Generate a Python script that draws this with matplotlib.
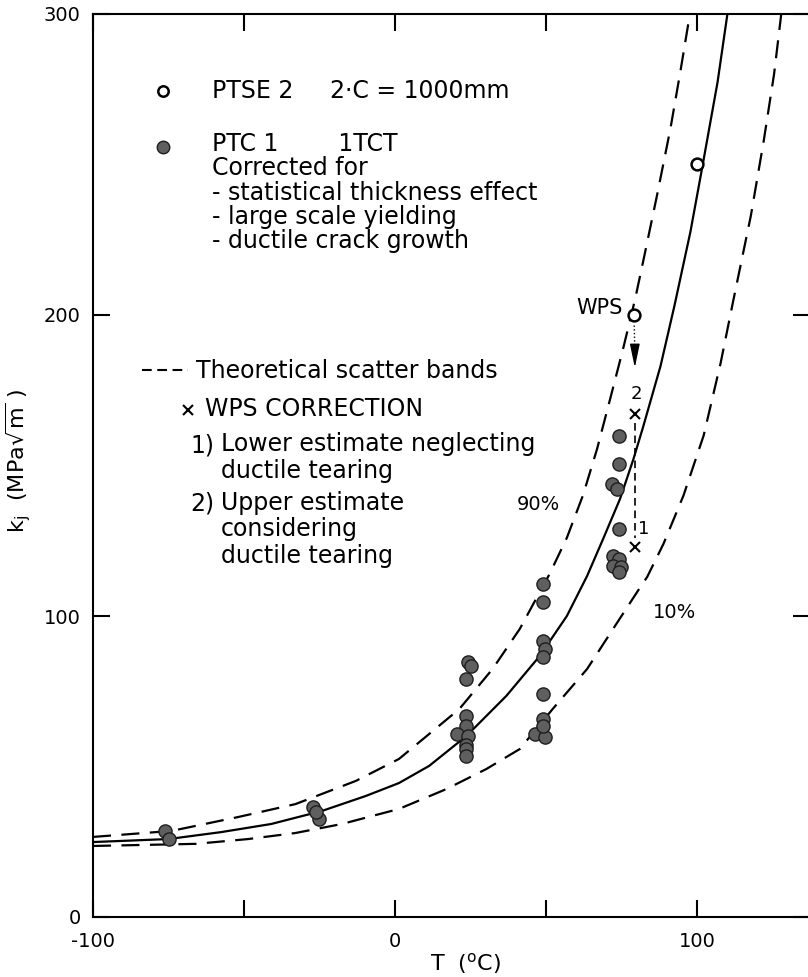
import numpy as np
import matplotlib
matplotlib.use('Agg')
import matplotlib.pyplot as plt
import matplotlib.lines as mlines

plt.rcParams['font.family'] = ['DejaVu Sans']
plt.rcParams['lines.scale_dashes'] = False

# median curve (solid)
t_med = [-100, -75, -57.6, -41, -24.3, -9.7, 1.3, 11.3, 23.6, 36.9, 47.9, 56.9,
         63.6, 68.9, 74.5, 78.9, 82.2, 87.9, 92.5, 97.8, 101.8, 106.8, 110.2]
k_med = [24.9, 25.9, 28.2, 30.9, 35.2, 40.2, 44.5, 50.2, 60.1, 73.5, 86.7, 100,
         113.3, 125.6, 138.9, 152, 163, 183, 203, 227.6, 249.5, 277.4, 301]

# 90% scatter band
t_hi = [-100, -74, -52, -33, -13, 1.3, 21.3, 32.3, 41.3, 51.2, 56.9, 62.2,
        66.9, 71.2, 75.5, 79.5, 82.2, 86.8, 91.2, 94.5, 97.8]
k_hi = [26.6, 28.6, 33.2, 37.5, 45.2, 52.5, 69.1, 82.4, 95.7, 114, 126, 140,
        155.5, 172, 188.7, 205.3, 218, 240, 262, 281, 301]

# 10% scatter band
t_lo = [-100, -66, -48.6, -33, -17.6, 1.3, 17, 30.3, 41.3, 52.2, 63.6, 72.2,
        80.5, 83.5, 88.9, 95.5, 102.2, 107.8, 112.1, 117.8, 122.1, 125.5, 128]
k_lo = [23.6, 24.3, 25.9, 27.9, 30.9, 35.9, 42.5, 49.2, 55.8, 69.1, 82.4, 95.7,
        108.5, 113, 124, 140, 160, 184, 205.3, 232.9, 258, 280, 301]

# PTC 1 test results (filled)
t_ptc = [-76, -75, -27, -25.3, -26,
         24, 25, 23.6, 23.6, 23.6, 20.6, 24.3, 23.6, 23.6, 23.6,
         49, 49, 49, 49.5, 49, 49, 49, 46.3, 49.5, 49,
         74, 74, 72, 73.5, 74, 72.3, 74, 72.3, 74.7, 74]
k_ptc = [28.6, 25.9, 36.5, 32.6, 35,
         84.7, 83.4, 79, 66.8, 63.5, 60.8, 60.1, 57, 55.8, 53.5,
         110.6, 104.6, 91.7, 89, 86.4, 74, 65.8, 60.8, 59.8, 63.5,
         159.8, 150.5, 143.9, 142.2, 128.9, 120, 118.9, 116.6, 116.3, 114.5]

# PTSE 2 (open)
t_ptse = [100, 79]
k_ptse = [250, 200]

# WPS correction estimates
t_wps = [79.5, 79.5]
k_wps = [167, 123]

W, H = 808, 977
fig = plt.figure(figsize=(W / 100, H / 100), dpi=100)
ax = fig.add_axes([93 / W, 60 / H, 717 / W, 903 / H])

def px(x, y):
    return x / W, 1 - y / H

ax.plot(t_med, k_med, color='black', lw=1.6, zorder=2)
ax.plot(t_hi, k_hi, color='black', lw=1.6, dashes=(13, 7.5), zorder=2)
ax.plot(t_lo, k_lo, color='black', lw=1.6, dashes=(13, 7.5), zorder=2)

ax.plot(t_ptc, k_ptc, 'o', ms=9.5, mfc='#5f5f5f', mec='#1e1e1e', mew=1.0,
        zorder=4, clip_on=False)
ax.plot(t_ptse, k_ptse, 'o', ms=8.5, mfc='white', mec='black', mew=1.8, zorder=5)
ax.plot(t_wps, k_wps, 'x', ms=7, mec='black', mew=1.5, zorder=5)

# WPS arrow and correction line
ax.plot([79.2, 79.4], [196.5, 188], color='black', lw=1.0, ls=':')
ax.annotate('', xy=(79.4, 182.5), xytext=(79.4, 189),
            arrowprops=dict(arrowstyle='-|>,head_length=1.2,head_width=0.25',
                            lw=1.0, color='black',
                            shrinkA=0, shrinkB=0, mutation_scale=12))
ax.plot([79.5, 79.5], [164, 126], color='black', lw=1.2, dashes=(5.5, 3.5))
ax.text(80.0, 173.8, '2', fontsize=13, ha='center', va='center')
ax.text(82.4, 129, '1', fontsize=13, ha='center', va='center')
fig.text(*px(623, 308), 'WPS', fontsize=15, ha='right', va='center')
fig.text(*px(517, 505), '90%', fontsize=14, ha='left', va='center')
fig.text(*px(653, 612), '10%', fontsize=14, ha='left', va='center')

# axes styling
ax.set_xlim(-100, 137.4)
ax.set_ylim(0, 300)
ax.set_xticks([-100, -50, 0, 50, 100])
ax.set_xticklabels(['-100', '', '0', '', '100'])
ax.set_yticks([0, 100, 200, 300])
ax.set_yticklabels(['0', '100', '200', '300'])
ax.tick_params(direction='in', length=12, width=1.5, top=True, right=True,
               labelsize=14)
ax.tick_params(axis='x', pad=11)
ax.tick_params(axis='y', pad=9)
for s in ax.spines.values():
    s.set_linewidth(1.5)

ax.set_ylabel(r'k$_\mathrm{j}$  (MPa$\sqrt{\mathrm{m}}$ )', fontsize=16)
ax.yaxis.set_label_coords((34 - 93) / 717, 0.505)
fig.text(*px(466, 963), r'T  ($^\mathrm{o}$C)', fontsize=16, ha='center', va='center')

# legend block (multi-line texts are placed by the baseline of their last line)
fs = 17
ax.plot(*px(163, 91), 'o', ms=7.5, mfc='white', mec='black', mew=1.8,
        transform=fig.transFigure, clip_on=False)
fig.text(*px(212, 98), 'PTSE 2', fontsize=fs, va='baseline')
fig.text(*px(330, 98), '2·C = 1000mm', fontsize=fs, va='baseline')
ax.plot(*px(163, 147), 'o', ms=9, mfc='#5f5f5f', mec='#1e1e1e', mew=1.0,
        transform=fig.transFigure, clip_on=False)
fig.text(*px(212, 248),
         'PTC 1        1TCT\nCorrected for\n- statistical thickness effect\n'
         '- large scale yielding\n- ductile crack growth',
         fontsize=fs, va='baseline', linespacing=1.01)

dash_leg = mlines.Line2D([142 / W, 188 / W], [1 - 370 / H, 1 - 370 / H],
                         color='black', lw=1.5, dashes=(7, 4),
                         transform=fig.transFigure)
fig.add_artist(dash_leg)
fig.text(*px(196, 378), 'Theoretical scatter bands', fontsize=fs, va='baseline')
ax.plot(*px(188, 410), 'x', ms=7, mec='black', mew=1.5,
        transform=fig.transFigure, clip_on=False)
fig.text(*px(205, 416), 'WPS CORRECTION', fontsize=fs, va='baseline')
fig.text(*px(190, 452), '1)', fontsize=fs, va='baseline')
fig.text(*px(221, 478), 'Lower estimate neglecting\nductile tearing',
         fontsize=fs, va='baseline', linespacing=1.14)
fig.text(*px(190, 510), '2)', fontsize=fs, va='baseline')
fig.text(*px(221, 563), 'Upper estimate\nconsidering\nductile tearing',
         fontsize=fs, va='baseline', linespacing=1.14)

fig.savefig('out.png', dpi=100)
